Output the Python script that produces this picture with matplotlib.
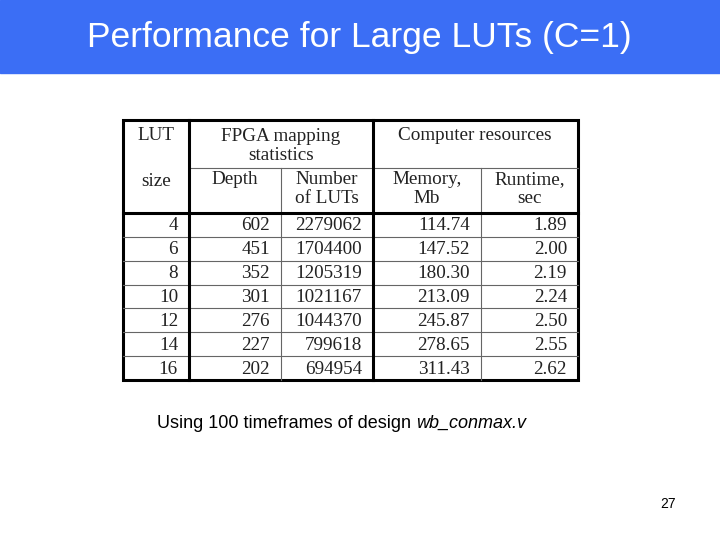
import matplotlib.pyplot as plt
from matplotlib.lines import Line2D

lut_size = [4, 6, 8, 10, 12, 14, 16]
depth = [602, 451, 352, 301, 276, 227, 202]
num_luts = [2279062, 1704400, 1205319, 1021167, 1044370, 799618, 694954]
memory = ["114.74", "147.52", "180.30", "213.09", "245.87", "278.65", "311.43"]
runtime = ["1.89", "2.00", "2.19", "2.24", "2.50", "2.55", "2.62"]

title = "Performance for Large LUTs (C=1)"
caption_plain = "Using 100 timeframes of design "
caption_italic = "wb_conmax.v"
page = "27"

fig = plt.figure(figsize=(7.2, 5.4), dpi=100)
ax = fig.add_axes([0, 0, 1, 1])
ax.set_xlim(0, 720)
ax.set_ylim(540, 0)
ax.axis("off")

# title bar
ax.add_patch(plt.Rectangle((0, 0), 720, 73, color="#3b6ef5", zorder=0))
ax.text(359, 38, title, color="white", fontsize=25.5, family="Liberation Sans",
        ha="center", va="center")

# table geometry
cols = [123, 189, 281, 373, 481, 578]
top, mid, hbot, bot = 120, 168, 213, 380
rows = [hbot + i * (bot - hbot) / len(lut_size) for i in range(len(lut_size) + 1)]

def line(x0, x1, y0, y1, lw, c="black"):
    ax.add_line(Line2D([x0, x1], [y0, y1], lw=lw, color=c, solid_capstyle="projecting"))

thick, thin = 2.2, 0.8
for y in rows[1:-1]:
    line(cols[0], cols[-1], y, y, thin, "#666666")
line(cols[1], cols[-1], mid, mid, thin, "#666666")
for x in (cols[2], cols[4]):
    line(x, x, mid, bot, thin, "#666666")
for x in (cols[1], cols[3]):
    line(x, x, top, bot, thick)
line(cols[0], cols[-1], hbot, hbot, thick)
ax.add_patch(plt.Rectangle((cols[0], top), cols[-1] - cols[0], bot - top,
                           fill=False, lw=thick, ec="black"))

tf = dict(fontsize=13.8, family="Liberation Serif", color="#222222")
ax.text(156, 135, "LUT", ha="center", va="center", **tf)
ax.text(156, 181, "size", ha="center", va="center", **tf)
ax.text(281, 146, "FPGA mapping\nstatistics", ha="center", va="center",
        linespacing=1.12, **tf)
ax.text(475, 135, "Computer resources", ha="center", va="center", **tf)
for (c0, c1), lab in zip([(189, 281), (281, 373), (373, 481), (481, 578)],
                         ["Depth", "Number\nof LUTs", "Memory,\nMb", "Runtime,\nsec"]):
    ax.text((c0 + c1) / 2, 171, lab, ha="center", va="top", linespacing=1.12, **tf)

for i in range(len(lut_size)):
    yc = (rows[i] + rows[i + 1]) / 2 + 1
    vals = [lut_size[i], depth[i], num_luts[i], memory[i], runtime[i]]
    for j, v in enumerate(vals):
        ax.text(cols[j + 1] - 11, yc, str(v), ha="right", va="center", **tf)

cf = dict(fontsize=13, family="Liberation Sans", va="center", ha="left")
t = ax.text(157, 423, caption_plain, **cf)
fig.canvas.draw()
bb = t.get_window_extent()
xe = ax.transData.inverted().transform((bb.x1, bb.y0))[0]
ax.text(xe, 423, caption_italic, style="italic", **cf)

ax.text(676, 504, page, fontsize=10, family="Liberation Sans", ha="right", va="center")

fig.savefig("out.png", dpi=100)
